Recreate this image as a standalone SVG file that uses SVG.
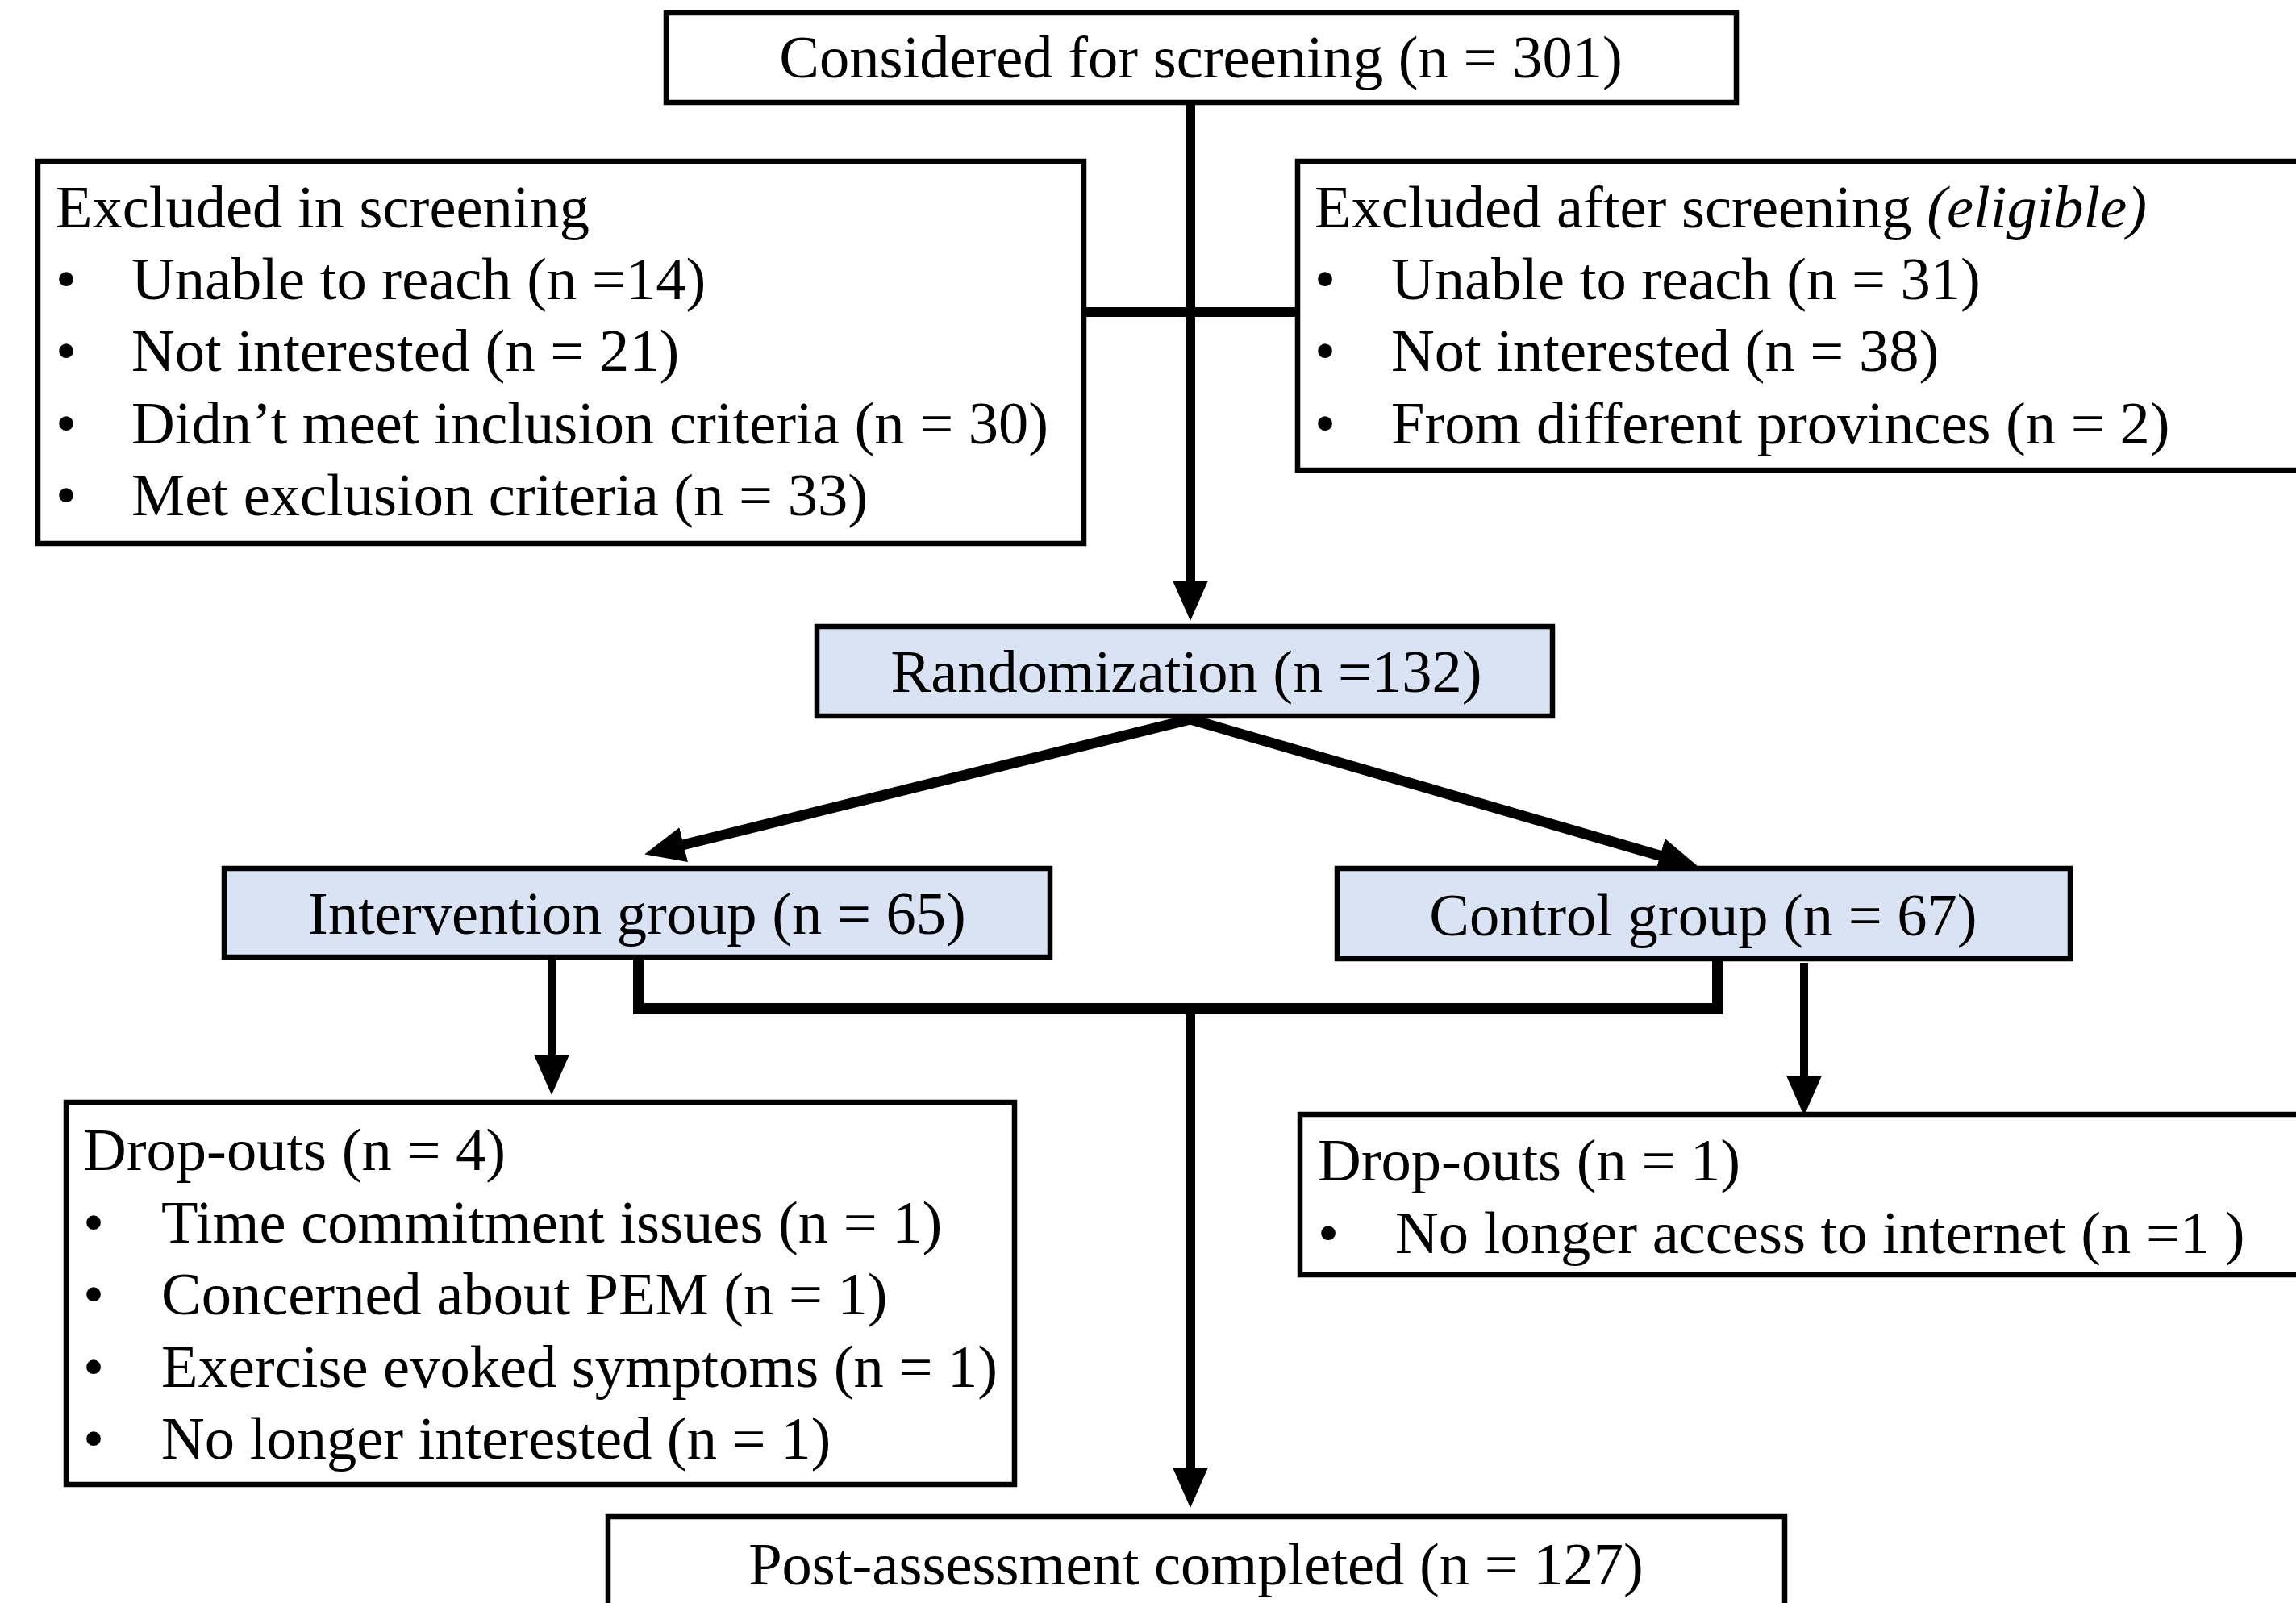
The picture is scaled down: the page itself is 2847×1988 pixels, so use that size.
<svg xmlns="http://www.w3.org/2000/svg" width="2847" height="1988" viewBox="0 0 2847 1988">
<style>
.box{fill:#ffffff;stroke:#000000;stroke-width:6.5}
.blue{fill:#DAE3F3;stroke:#000000;stroke-width:6.5}
text{font-family:"Liberation Serif","Times New Roman",serif;font-size:74.5px;fill:#000000}
.c{text-anchor:middle}
.ln{stroke:#000000;fill:none;stroke-linecap:butt}
</style>
<defs>
<marker id="ah" markerUnits="userSpaceOnUse" markerWidth="52" markerHeight="46" refX="10" refY="22" orient="auto" viewBox="0 0 52 46">
<path d="M0,0 L50,22 L0,44 z" fill="#000000"/>
</marker>
</defs>
<rect width="2847" height="1988" fill="#ffffff"/>

<g id="connectors">
<line class="ln" x1="1476" y1="127" x2="1476" y2="730" stroke-width="12" marker-end="url(#ah)"/>
<line class="ln" x1="1344" y1="387" x2="1609" y2="387" stroke-width="12"/>
<line class="ln" x1="1476" y1="892" x2="838" y2="1050" stroke-width="13" marker-end="url(#ah)"/>
<line class="ln" x1="1476" y1="892" x2="2068" y2="1064" stroke-width="13" marker-end="url(#ah)"/>
<line class="ln" x1="684" y1="1187" x2="684" y2="1318" stroke-width="10" marker-end="url(#ah)"/>
<polyline class="ln" points="792,1187 792,1251 2130,1251 2130,1189" stroke-width="14"/>
<line class="ln" x1="1476" y1="1251" x2="1476" y2="1830" stroke-width="12" marker-end="url(#ah)"/>
<line class="ln" x1="2237" y1="1194" x2="2237" y2="1344" stroke-width="10" marker-end="url(#ah)"/>
</g>

<g id="considered">
<rect class="box" x="826" y="16" width="1327" height="111"/>
<text class="c" x="1489" y="96">Considered for screening (n = 301)</text>
</g>

<g id="excluded-in-screening">
<rect class="box" x="47" y="200" width="1297" height="474"/>
<text x="69" y="282">Excluded in screening</text>
<text x="69" y="371">•</text><text x="163" y="371">Unable to reach (n =14)</text>
<text x="69" y="460">•</text><text x="163" y="460">Not interested (n = 21)</text>
<text x="69" y="550">•</text><text x="163" y="550">Didn’t meet inclusion criteria (n = 30)</text>
<text x="69" y="639">•</text><text x="163" y="639">Met exclusion criteria (n = 33)</text>
</g>

<g id="excluded-after-screening">
<rect class="box" x="1609" y="200" width="1260" height="383"/>
<text x="1630" y="282">Excluded after screening <tspan font-style="italic">(eligible)</tspan></text>
<text x="1630" y="371">•</text><text x="1725" y="371">Unable to reach (n = 31)</text>
<text x="1630" y="460">•</text><text x="1725" y="460">Not interested (n = 38)</text>
<text x="1630" y="550">•</text><text x="1725" y="550">From different provinces (n = 2)</text>
</g>

<g id="randomization">
<rect class="blue" x="1013" y="777" width="912" height="111"/>
<text class="c" x="1471" y="858">Randomization (n =132)</text>
</g>

<g id="intervention">
<rect class="blue" x="278" y="1077" width="1024" height="110"/>
<text class="c" x="790" y="1158">Intervention group (n = 65)</text>
</g>

<g id="control">
<rect class="blue" x="1658" y="1077" width="909" height="112"/>
<text class="c" x="2112" y="1160">Control group (n = 67)</text>
</g>

<g id="dropouts-intervention">
<rect class="box" x="82" y="1367" width="1176" height="474"/>
<text x="103" y="1451">Drop-outs (n = 4)</text>
<text x="103" y="1541">•</text><text x="200" y="1541">Time commitment issues (n = 1)</text>
<text x="103" y="1630">•</text><text x="200" y="1630">Concerned about PEM (n = 1)</text>
<text x="103" y="1720">•</text><text x="200" y="1720">Exercise evoked symptoms (n = 1)</text>
<text x="103" y="1809">•</text><text x="200" y="1809">No longer interested (n = 1)</text>
</g>

<g id="dropouts-control">
<rect class="box" x="1612" y="1382" width="1260" height="199"/>
<text x="1634" y="1464">Drop-outs (n = 1)</text>
<text x="1634" y="1554">•</text><text x="1730" y="1554">No longer access to internet (n =1 )</text>
</g>

<g id="post-assessment">
<rect class="box" x="754" y="1881" width="1459" height="130"/>
<text class="c" x="1483" y="1965">Post-assessment completed (n = 127)</text>
</g>
</svg>
